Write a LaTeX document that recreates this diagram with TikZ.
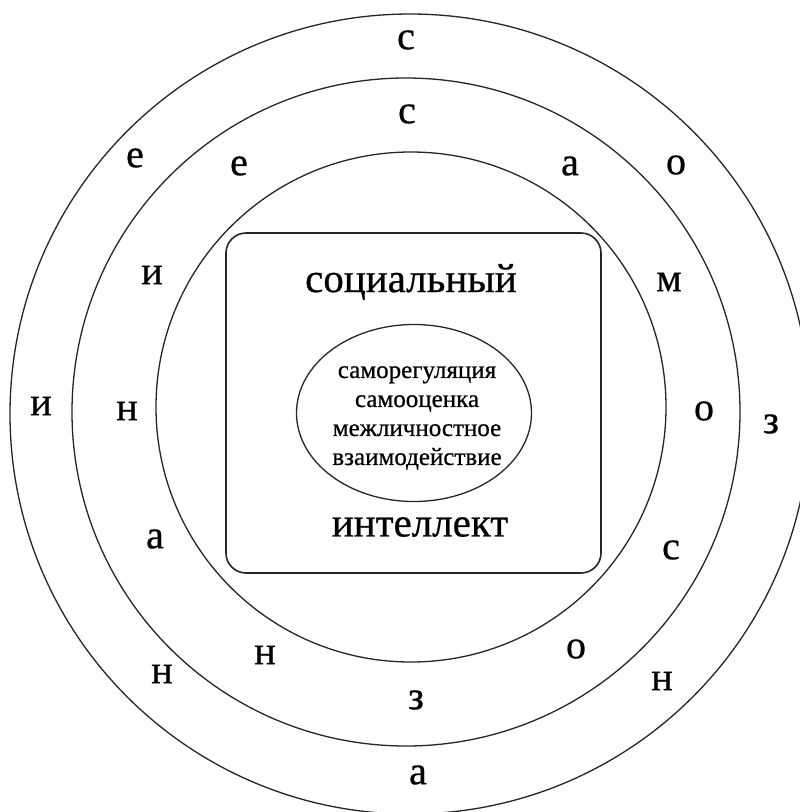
\documentclass[tikz,border=0pt]{standalone}
\usepackage{fontspec}
\setmainfont{Liberation Serif}
\newfontfamily\heavyserif[FakeBold=0.6]{Liberation Serif}
\usetikzlibrary{shapes.geometric}
\begin{document}
\begin{tikzpicture}[x=1pt,y=-1pt,
  ring/.style={draw=black!85,line width=1.3pt},
  letter/.style={font=\heavyserif\fontsize{40}{40}\selectfont,inner sep=0pt},
  bigword/.style={font=\heavyserif\fontsize{41}{41}\selectfont,inner sep=0pt},
  core/.style={draw=black!85,line width=1.3pt,ellipse,minimum width=235pt,minimum height=177pt,inner sep=0pt},
  frame/.style={draw=black!85,line width=1.6pt,rounded corners=20pt}]
\useasboundingbox (0,0) rectangle (800,812);
\clip (0,0) rectangle (800,812);
\fill[white] (0,0) rectangle (800,812);
% three nested rings
\draw[ring] (410,414) circle[radius=400];
\draw[ring] (406,412) circle[radius=334];
\draw[ring] (411,407) circle[radius=255];
% central frame
\draw[frame] (226,233) rectangle (601,573);
\node[bigword] (top) at (411,282) {социальный};
\node[bigword] (bottom) at (420,527) {интеллект};
\node[core] (core) at (414,413) {};
\node[font=\heavyserif\fontsize{25}{29}\selectfont,align=center,inner sep=0pt] (skills) at (417,418)
  {саморегуляция\\самооценка\\межличностное\\взаимодействие};
% outer ring letters
\node[letter] (o1) at (406,40) {с};
\node[letter] (o2) at (676,165) {о};
\node[letter] (o3) at (771,424) {з};
\node[letter] (o4) at (662,681) {н};
\node[letter] (o5) at (418,775) {а};
\node[letter] (o6) at (162,674) {н};
\node[letter] (o7) at (41,406) {и};
\node[letter] (o8) at (135,158) {е};
% middle ring letters
\node[letter] (m1) at (407,114) {с};
\node[letter] (m2) at (570,166) {а};
\node[letter] (m3) at (669,282) {м};
\node[letter] (m4) at (704,411) {о};
\node[letter] (m5) at (671,550) {с};
\node[letter] (m6) at (576,649) {о};
\node[letter] (m7) at (416,700) {з};
\node[letter] (m8) at (265,655) {н};
\node[letter] (m9) at (155,539) {а};
\node[letter] (m10) at (127,411) {н};
\node[letter] (m11) at (152,275) {и};
\node[letter] (m12) at (239,166) {е};
\end{tikzpicture}
\end{document}
